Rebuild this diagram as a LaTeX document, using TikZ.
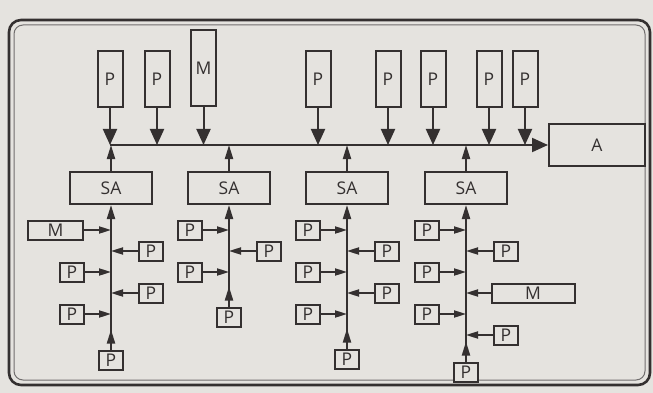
\documentclass[tikz,border=0pt]{standalone}
\usepackage{fontspec}
\setmainfont{Open Sans}
\usetikzlibrary{arrows.meta,decorations.markings}
\definecolor{paper}{RGB}{229,227,223}
\definecolor{ink}{RGB}{52,48,48}

\begin{document}
\begin{tikzpicture}[x=1pt,y=-1pt,color=ink,
  box/.style={draw,fill=paper,line width=2pt,inner sep=0pt,
    font=\fontsize{17.5}{20}\selectfont},
  tallbox/.style={box,minimum width=25pt,minimum height=56pt},
  smallbox/.style={box,minimum width=24pt,minimum height=19pt},
  sabox/.style={box,minimum width=82pt,minimum height=32pt},
  bigtip/.style={line width=2pt,-{Triangle[length=16pt,width=14pt]}},
  uptip/.style={line width=2pt,-{Triangle[length=14pt,width=8pt]}},
  subtip/.style={line width=2pt,-{Triangle[length=12pt,width=7pt]}},
  midtip/.style={decoration={markings,
    mark=at position 20pt with {\arrow{Triangle[length=14pt,width=8pt]}}},
    postaction=decorate}
]

% Paper and page size
\fill[paper] (0,0) rectangle (653,393);
\useasboundingbox (0,0) rectangle (653,393);

% Double rounded frame
\draw[line width=2.6pt,rounded corners=12pt] (9,20) rectangle (650,385);
\draw[line width=1pt,ink!70,rounded corners=9pt] (14,25) rectangle (645,380);

% Upper modules
\node[tallbox] (tp1) at (110,79) {P};
\node[tallbox] (tp2) at (157,79) {P};
\node[box,minimum width=25pt,minimum height=76pt] (tmem) at (203.5,68) {M};
\node[tallbox] (tp3) at (318,79) {P};
\node[tallbox] (tp4) at (388,79) {P};
\node[tallbox] (tp5) at (433,79) {P};
\node[tallbox] (tp6) at (489,79) {P};
\node[tallbox] (tp7) at (525,79) {P};

% Main bus
\coordinate (bus) at (110,145);
\node[box,minimum width=96pt,minimum height=41pt] (a) at (597,145) {A};
\draw[bigtip] (bus) -- (a.west);

\draw[bigtip] (tp1.south) -- (tp1.south |- bus);
\draw[bigtip] (tp2.south) -- (tp2.south |- bus);
\draw[bigtip] (tmem.south) -- (tmem.south |- bus);
\draw[bigtip] (tp3.south) -- (tp3.south |- bus);
\draw[bigtip] (tp4.south) -- (tp4.south |- bus);
\draw[bigtip] (tp5.south) -- (tp5.south |- bus);
\draw[bigtip] (tp6.south) -- (tp6.south |- bus);
\draw[bigtip] (tp7.south) -- (tp7.south |- bus);

% Bus adapters
\node[sabox] (sa1) at (111,188) {SA};
\node[sabox] (sa2) at (229,188) {SA};
\node[sabox] (sa3) at (347,188) {SA};
\node[sabox] (sa4) at (466,188) {SA};

\draw[uptip] (sa1.north) -- (sa1.north |- bus);
\draw[uptip] (sa2.north) -- (sa2.north |- bus);
\draw[uptip] (sa3.north) -- (sa3.north |- bus);
\draw[uptip] (sa4.north) -- (sa4.north |- bus);

% First local bus
\node[smallbox] (b1) at (111,360) {P};
\draw[uptip,midtip] (b1.north) -- (sa1.south);
\node[box,minimum width=55pt,minimum height=19pt] (l11) at (55.5,230) {M};
\node[smallbox] (l12) at (151,251) {P};
\node[smallbox] (l13) at (72,272) {P};
\node[smallbox] (l14) at (151,293) {P};
\node[smallbox] (l15) at (72,314) {P};
\draw[subtip] (l11.east) -- (l11.east -| sa1.south);
\draw[subtip] (l12.west) -- (l12.west -| sa1.south);
\draw[subtip] (l13.east) -- (l13.east -| sa1.south);
\draw[subtip] (l14.west) -- (l14.west -| sa1.south);
\draw[subtip] (l15.east) -- (l15.east -| sa1.south);

% Second local bus
\node[smallbox] (b2) at (229,317) {P};
\draw[uptip,midtip] (b2.north) -- (sa2.south);
\node[smallbox] (l21) at (190,230) {P};
\node[smallbox] (l22) at (269,251) {P};
\node[smallbox] (l23) at (190,272) {P};
\draw[subtip] (l21.east) -- (l21.east -| sa2.south);
\draw[subtip] (l22.west) -- (l22.west -| sa2.south);
\draw[subtip] (l23.east) -- (l23.east -| sa2.south);

% Third local bus
\node[smallbox] (b3) at (347,359) {P};
\draw[uptip,midtip] (b3.north) -- (sa3.south);
\node[smallbox] (l31) at (308,230) {P};
\node[smallbox] (l32) at (387,251) {P};
\node[smallbox] (l33) at (308,272) {P};
\node[smallbox] (l34) at (387,293) {P};
\node[smallbox] (l35) at (308,314) {P};
\draw[subtip] (l31.east) -- (l31.east -| sa3.south);
\draw[subtip] (l32.west) -- (l32.west -| sa3.south);
\draw[subtip] (l33.east) -- (l33.east -| sa3.south);
\draw[subtip] (l34.west) -- (l34.west -| sa3.south);
\draw[subtip] (l35.east) -- (l35.east -| sa3.south);

% Fourth local bus
\node[smallbox] (b4) at (466,372) {P};
\draw[uptip,midtip] (b4.north) -- (sa4.south);
\node[smallbox] (l41) at (427,230) {P};
\node[smallbox] (l42) at (506,251) {P};
\node[smallbox] (l43) at (427,272) {P};
\node[box,minimum width=83pt,minimum height=19pt] (l44) at (533,293) {M};
\node[smallbox] (l45) at (427,314) {P};
\node[smallbox] (l46) at (506,335) {P};
\draw[subtip] (l41.east) -- (l41.east -| sa4.south);
\draw[subtip] (l42.west) -- (l42.west -| sa4.south);
\draw[subtip] (l43.east) -- (l43.east -| sa4.south);
\draw[subtip] (l44.west) -- (l44.west -| sa4.south);
\draw[subtip] (l45.east) -- (l45.east -| sa4.south);
\draw[subtip] (l46.west) -- (l46.west -| sa4.south);

\end{tikzpicture}
\end{document}
